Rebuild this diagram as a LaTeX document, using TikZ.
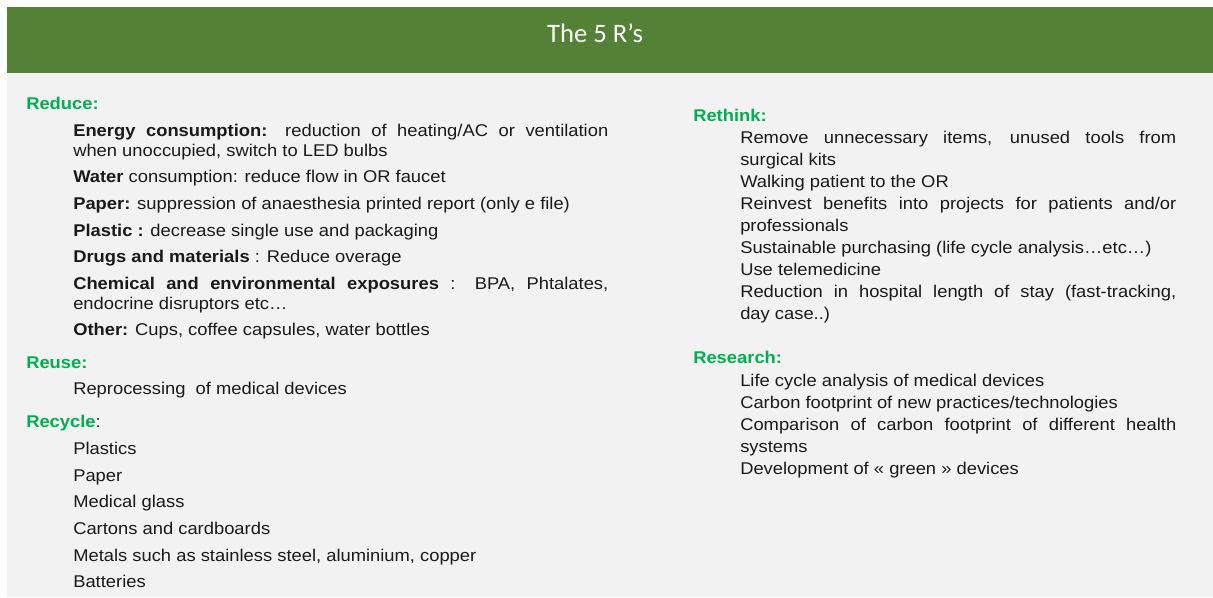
\documentclass[tikz,border=0pt]{standalone}
\usepackage{fontspec}
\setmainfont[FakeStretch=1.08]{Liberation Sans}
\newfontfamily\titlefont{Carlito}
\usepackage{xcolor}
\usepackage{tikz}
\definecolor{barGreen}{HTML}{538135}
\definecolor{headGreen}{HTML}{00B050}
\definecolor{bodyGray}{HTML}{F2F2F2}
\definecolor{bodyText}{HTML}{1A1A1A}
\hyphenpenalty=10000
\exhyphenpenalty=10000

\begin{document}
\begin{tikzpicture}[
    x=0.75pt, y=-0.75pt,
    item/.style={anchor=base west, inner sep=0pt, text=bodyText, font=\fontsize{12.75}{15}\selectfont},
    heading/.style={item, text=headGreen, font=\fontsize{12.75}{15}\selectfont\bfseries},
    leftpar/.style={item, text width=401.25pt, align=justify},
    rightpar/.style={item, text width=327pt, align=justify, font=\fontsize{12.75}{16.5}\selectfont}
]
    \useasboundingbox (0,0) rectangle (1213,597);
    \fill[bodyGray] (7,73) rectangle (1213,597);
    \fill[barGreen] (7,7) rectangle (1213,73);
    \node[text=white, font=\titlefont\fontsize{20}{24}\selectfont] (title) at (595,33) {The 5 R’s};

    % left column
    \node[heading] (reduce) at (26,109) {Reduce:};
    \node[leftpar] (energy) at (73,136) {\textbf{Energy consumption:} reduction of heating/AC or ventilation\linebreak when unoccupied, switch to LED bulbs};
    \node[item] (water) at (73,182) {\textbf{Water} consumption: reduce flow in OR faucet};
    \node[item] (paper) at (73,209) {\textbf{Paper:} suppression of anaesthesia printed report (only e file)};
    \node[item] (plastic) at (73,236) {\textbf{Plastic :} decrease single use and packaging};
    \node[item] (drugs) at (73,262) {\textbf{Drugs and materials} : Reduce overage};
    \node[leftpar] (chemical) at (73,289) {\textbf{Chemical and environmental exposures} : BPA, Phtalates,\linebreak endocrine disruptors etc…};
    \node[item] (other) at (73,335) {\textbf{Other:} Cups, coffee capsules, water bottles};

    \node[heading] (reuse) at (26,368) {Reuse:};
    \node[item] (reprocess) at (73,394) {Reprocessing\ \ of medical devices};

    \node[heading] (recycle) at (26,427) {Recycle{\mdseries\color{bodyText}:}};
    \node[item] (plastics) at (73,454) {Plastics};
    \node[item] (paperR) at (73,481) {Paper};
    \node[item] (glass) at (73,507) {Medical glass};
    \node[item] (cartons) at (73,534) {Cartons and cardboards};
    \node[item] (metals) at (73,561) {Metals such as stainless steel, aluminium, copper};
    \node[item] (batteries) at (73,587) {Batteries};

    % right column
    \node[heading] (rethink) at (693,121) {Rethink:};
    \node[rightpar] (remove) at (740,143) {Remove unnecessary items, unused tools from\linebreak surgical kits};
    \node[item] (walking) at (740,187) {Walking patient to the OR};
    \node[rightpar] (reinvest) at (740,209) {Reinvest benefits into projects for patients and/or\linebreak professionals};
    \node[item] (purchase) at (740,253) {Sustainable purchasing (life cycle analysis…etc…)};
    \node[item] (tele) at (740,275) {Use telemedicine};
    \node[rightpar] (stay) at (740,297) {Reduction in hospital length of stay (fast-tracking,\linebreak day case..)};

    \node[heading] (research) at (693,363) {Research:};
    \node[item] (lca) at (740,386) {Life cycle analysis of medical devices};
    \node[item] (carbon) at (740,408) {Carbon footprint of new practices/technologies};
    \node[rightpar] (compare) at (740,430) {Comparison of carbon footprint of different health\linebreak systems};
    \node[item] (green) at (740,474) {Development of « green » devices};
\end{tikzpicture}
\end{document}
